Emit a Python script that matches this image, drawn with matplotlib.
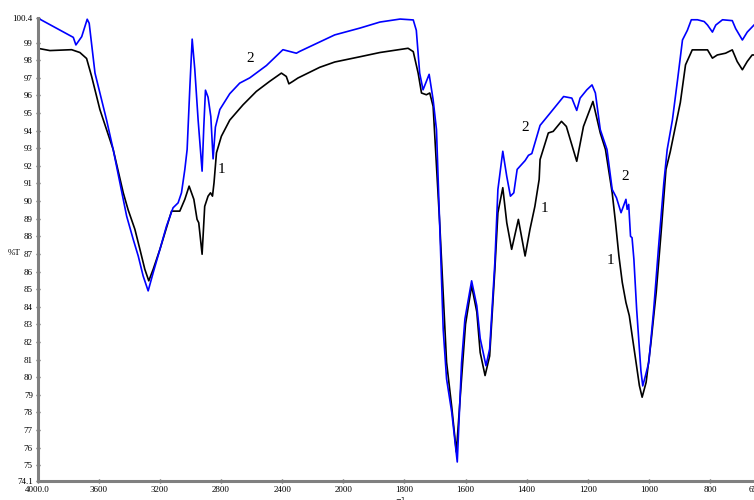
import numpy as np
import matplotlib
matplotlib.use("Agg")
import matplotlib.pyplot as plt

# spectrum 2 (blue), wavenumber cm-1 and %T
wn_2 = [4000, 3767, 3750, 3712, 3676, 3663, 3625, 3549, 3506, 3462, 3418, 3375,
        3342, 3310, 3277, 3244, 3200, 3157, 3114, 3081, 3059, 3037, 3022, 3004,
        2989, 2972, 2950, 2924, 2913, 2902, 2885, 2867, 2852, 2837, 2808, 2743,
        2678, 2612, 2503, 2395, 2307, 2286, 2154, 2056, 1945, 1880, 1814, 1771,
        1761, 1750, 1739, 1719, 1706, 1695, 1684, 1673, 1662, 1645, 1627, 1613,
        1602, 1580, 1563, 1552, 1533, 1521, 1504, 1494, 1478, 1465, 1453, 1442,
        1431, 1405, 1394, 1383, 1356, 1323, 1301, 1279, 1252, 1236, 1225, 1203,
        1186, 1175, 1159, 1137, 1120, 1106, 1091, 1075, 1071, 1066, 1060, 1055,
        1049, 1040, 1031, 1026, 1020, 1011, 1000, 984, 968, 951, 940, 923, 906,
        890, 874, 861, 841, 819, 808, 792, 781, 759, 727, 716, 694, 678, 656, 650]
t_2 = [100.4, 99.3, 98.87, 99.34, 100.33, 100.1, 97.27, 94.6, 92.93, 91.04, 89.15, 87.83,
       86.88, 85.75, 84.9, 85.94, 87.26, 88.58, 89.62, 89.9, 90.47, 91.8, 92.93, 96.5,
       99.2, 97.5, 94.6, 91.7, 94.2, 96.3, 95.9, 94.8, 92.4, 94.2, 95.2, 96.1,
       96.7, 97.0, 97.7, 98.6, 98.4, 98.5, 99.04, 99.44, 99.83, 100.17, 100.34, 100.29,
       99.7, 97.27, 96.32, 97.2, 95.76, 94.06, 88.4, 82.7, 79.9, 78.0, 75.18, 80.8,
       83.3, 85.47, 84.05, 82.2, 80.65, 81.6, 86.5, 90.66, 92.83, 91.4, 90.28, 90.47,
       91.8, 92.3, 92.6, 92.7, 94.3, 95.0, 95.47, 95.94, 95.85, 95.15, 95.85, 96.32,
       96.6, 96.14, 94.06, 92.93, 90.66, 90.19, 89.34, 90.1, 89.53, 89.81, 88.0, 87.92,
       86.7, 83.87, 81.6, 80.37, 79.5, 80.09, 80.85, 83.87, 87.45, 91.04, 92.93, 94.6, 96.9,
       99.15, 99.7, 100.3, 100.3, 100.2, 100.0, 99.6, 100.0, 100.3, 100.25, 99.8, 99.15, 99.6, 100.0, 100.1]

# spectrum 1 (black)
wn_1 = [4000, 3920, 3778, 3724, 3680, 3647, 3593, 3506, 3440, 3408, 3364, 3331,
        3299, 3273, 3244, 3200, 3124, 3070, 3037, 3009, 2978, 2957, 2946, 2924,
        2907, 2885, 2869, 2856, 2846, 2830, 2798, 2743, 2656, 2569, 2482, 2405,
        2373, 2356, 2330, 2297, 2154, 2056, 1945, 1880, 1788, 1771, 1755, 1744,
        1728, 1717, 1706, 1684, 1662, 1645, 1630, 1613, 1600, 1580, 1563, 1552,
        1536, 1521, 1504, 1494, 1478, 1465, 1449, 1427, 1405, 1389, 1373, 1359,
        1356, 1329, 1313, 1286, 1270, 1236, 1214, 1183, 1159, 1142, 1120, 1109,
        1098, 1087, 1075, 1064, 1053, 1042, 1031, 1022, 1009, 993, 976, 960, 944,
        930, 897, 880, 858, 831, 808, 792, 776, 749, 727, 711, 694, 678, 662, 650]
t_1 = [98.68, 98.55, 98.6, 98.44, 98.1, 97.08, 95.2, 92.93, 90.47, 89.5, 88.4, 87.26,
       86.13, 85.47, 86.13, 87.26, 89.43, 89.43, 90.1, 90.85, 90.1, 88.96, 88.77, 86.98,
       89.7, 90.28, 90.47, 90.28, 91.04, 92.74, 93.68, 94.6, 95.47, 96.23, 96.8, 97.27,
       97.08, 96.66, 96.8, 96.99, 97.6, 97.9, 98.2, 98.44, 98.68, 98.49, 97.27, 96.14,
       96.04, 96.14, 95.38, 88.6, 80.85, 78.3, 75.75, 79.9, 83.0, 85.2, 83.7, 81.4,
       80.09, 81.2, 86.1, 89.34, 90.76, 88.77, 87.26, 88.96, 86.88, 88.4, 89.7, 91.23,
       92.36, 93.87, 93.96, 94.53, 94.24, 92.26, 94.24, 95.66, 93.87, 92.93, 90.47, 88.77,
       86.88, 85.38, 84.24, 83.49, 82.16, 80.85, 79.52, 78.86, 79.7, 81.98, 84.81, 88.2, 91.8,
       92.8, 95.6, 97.74, 98.59, 98.59, 98.59, 98.12, 98.3, 98.4, 98.59, 97.93, 97.46, 97.93, 98.3, 98.3]

x_ticks = [4000, 3600, 3200, 2800, 2400, 2000, 1800, 1600, 1400, 1200, 1000, 800, 650]
x_labels = ["4000.0", "3600", "3200", "2800", "2400", "2000", "1800", "1600",
            "1400", "1200", "1000", "800", "650"]
y_ticks = [74.1] + list(range(75, 100)) + [100.4]
y_labels = ["74.1"] + [str(v) for v in range(75, 100)] + ["100.4"]

# curve labels: (text, wavenumber, %T)
curve_labels = [("2", 2612, 98.1), ("1", 2796, 91.8), ("2", 1405, 94.2),
                ("1", 1340, 89.6), ("2", 1078, 91.4), ("1", 1124, 86.6)]


def fwd(w):
    # x axis is compressed 2:1 above 2000 cm-1
    w = np.asarray(w, dtype=float)
    return np.where(w > 2000, 2000 + (w - 2000) / 2, w)


def inv(u):
    u = np.asarray(u, dtype=float)
    return np.where(u > 2000, 2000 + (u - 2000) * 2, u)


plt.rcParams['font.family'] = ['Liberation Serif', 'DejaVu Serif']

fig = plt.figure(figsize=(7.54, 5.0), dpi=100)
ax = fig.add_axes([0.05, 0.038, 0.9524, 0.926])
ax.set_xscale('function', functions=(fwd, inv))

ax.plot(wn_1, t_1, color='black', lw=1.2)
ax.plot(wn_2, t_2, color='#0000ff', lw=1.2)

ax.set_xlim(4000, 650)
ax.set_ylim(74.1, 100.4)
ax.set_xticks(x_ticks)
ax.set_xticklabels(x_labels)
ax.set_yticks(y_ticks)
ax.set_yticklabels(y_labels)
ax.minorticks_off()
ax.tick_params(labelsize=6.5, length=3, width=1, direction='inout', color='#555555', pad=2)

for s in ['top', 'right']:
    ax.spines[s].set_visible(False)
for s in ['left', 'bottom']:
    ax.spines[s].set_color('#808080')
    ax.spines[s].set_linewidth(2.2)

for txt, w, t in curve_labels:
    ax.text(w, t, txt, fontsize=11, ha='center', va='center')

fig.text(14 / 754, 1 - 253 / 500, "%T", fontsize=6.5, ha='center', va='center')
fig.text(395 / 754, 1 - 495 / 500, "cm$^{-1}$", fontsize=7, ha='center', va='top')

fig.savefig('out.png', dpi=100)
